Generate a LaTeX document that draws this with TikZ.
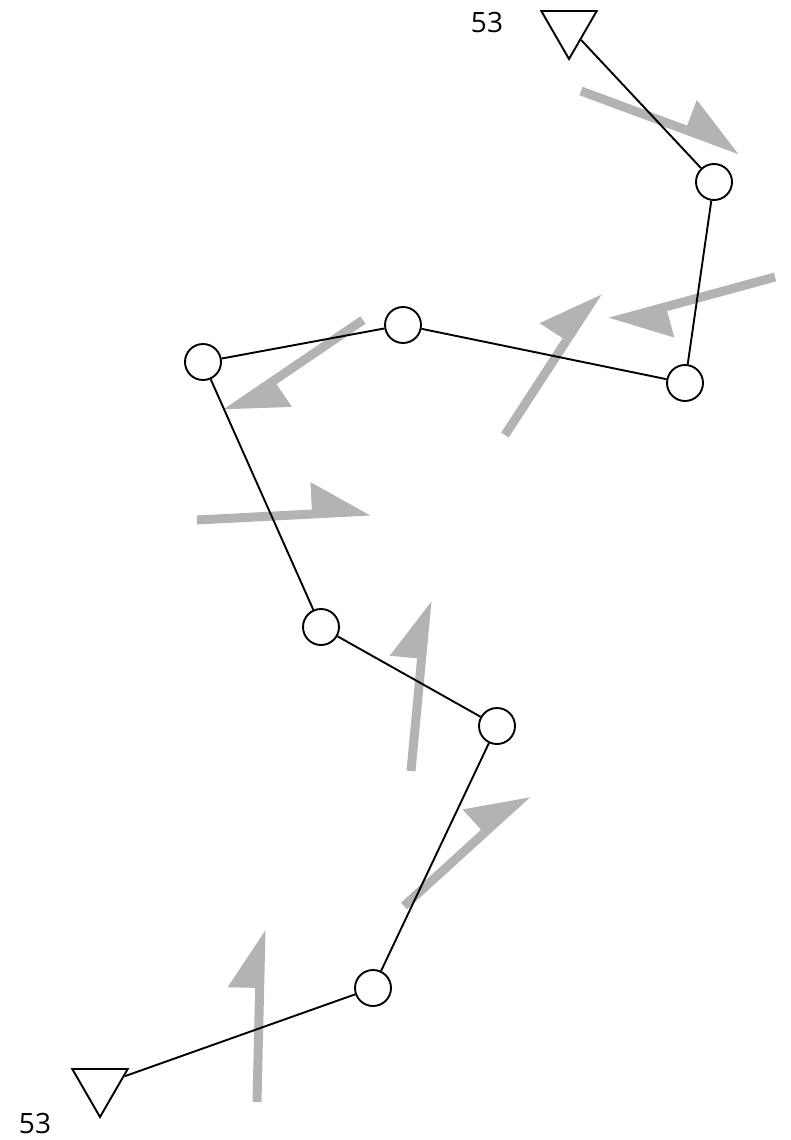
\documentclass[tikz,border=0pt]{standalone}
\usepackage{fontspec}
\setmainfont{Open Sans}
\usepackage{tikz}
\usetikzlibrary{shapes.geometric, calc}
\definecolor{windgray}{RGB}{179, 179, 179}

% half arrow: shaft from #1, one-sided head ending at #2
\newcommand{\halfArrow}[2]{%
  \coordinate (hb) at ($(#2)!58pt!(#1)$);
  \draw[windShaft] (#1) -- (hb);
  \fill[windHead] ($(#2)!4.5pt!90:(#1)$) -- ($(hb)!4.5pt!90:(#1)$) -- ($(hb)!32pt!-90:(#1)$) -- cycle;
}

\begin{document}
\begin{tikzpicture}[
    x=1pt, y=-1pt,
    joint/.style={draw=black, fill=white, circle, line width=1.9pt, minimum size=36pt, inner sep=0pt},
    anchorTri/.style={draw=black, fill=white, regular polygon, regular polygon sides=3, shape border rotate=180, minimum size=64pt, inner sep=0pt, line width=1.9pt},
    chain/.style={draw=black, line width=1.9pt},
    windShaft/.style={draw=windgray, line width=9pt},
    windHead/.style={fill=windgray},
    tag/.style={font=\fontsize{28}{32}\selectfont, inner sep=0pt}
]
\useasboundingbox (0,0) rectangle (791,1140);

% Gray arrows
\coordinate (w1s) at (581,91);   \coordinate (w1e) at (740,150);
\coordinate (w2s) at (363,320);  \coordinate (w2e) at (226,413);
\coordinate (w3s) at (505,435);  \coordinate (w3e) at (598,292);
\coordinate (w4s) at (775,277);  \coordinate (w4e) at (610,322);
\coordinate (w5s) at (197,520);  \coordinate (w5e) at (370,511);
\coordinate (w6s) at (411,771);  \coordinate (w6e) at (427,601);
\coordinate (w7s) at (404,906);  \coordinate (w7e) at (527,794);
\coordinate (w8s) at (257,1102); \coordinate (w8e) at (261,930);

\halfArrow{w1s}{w1e}
\halfArrow{w2s}{w2e}
\halfArrow{w3s}{w3e}
\halfArrow{w4s}{w4e}
\halfArrow{w5s}{w5e}
\halfArrow{w6s}{w6e}
\halfArrow{w7s}{w7e}
\halfArrow{w8s}{w8e}

% Chain
\node[anchorTri] (anchorTop) at (569,27) {};
\node[joint] (j1) at (714,182) {};
\node[joint] (j2) at (685,383) {};
\node[joint] (j3) at (403,325) {};
\node[joint] (j4) at (203,362) {};
\node[joint] (j5) at (321,627) {};
\node[joint] (j6) at (497,726) {};
\node[joint] (j7) at (373,988) {};
\node[anchorTri] (anchorBot) at (100,1085) {};

\draw[chain] (anchorTop) -- (j1);
\draw[chain] (j1) -- (j2);
\draw[chain] (j2) -- (j3);
\draw[chain] (j3) -- (j4);
\draw[chain] (j4) -- (j5);
\draw[chain] (j5) -- (j6);
\draw[chain] (j6) -- (j7);
\draw[chain] (j7) -- (anchorBot);

% Labels
\node[tag] (tagTop) at (487,22) {53};
\node[tag] (tagBot) at (35,1123) {53};

\end{tikzpicture}
\end{document}
